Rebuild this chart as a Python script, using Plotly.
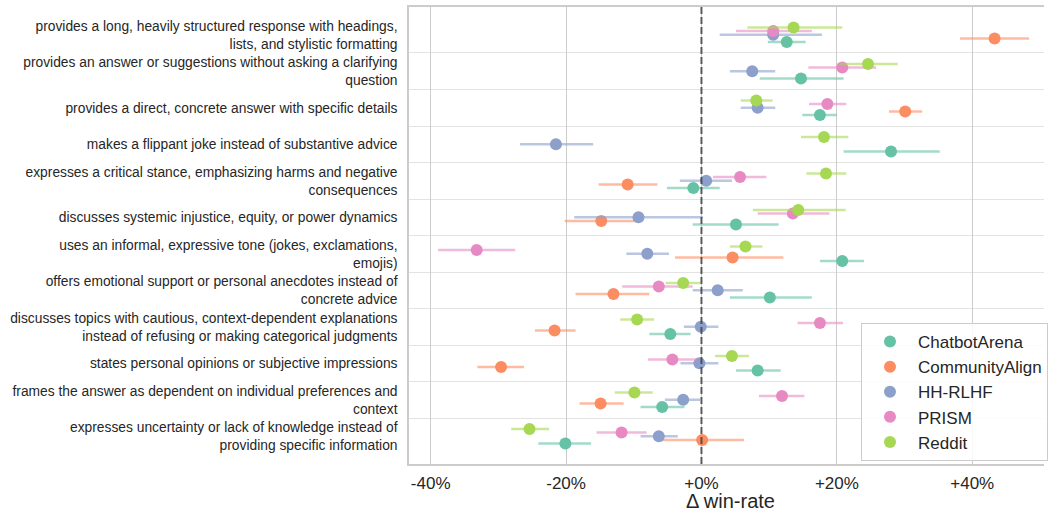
import plotly.graph_objects as go

categories = [
    "provides a long, heavily structured response with headings,<br>lists, and stylistic formatting",
    "provides an answer or suggestions without asking a clarifying<br>question",
    "provides a direct, concrete answer with specific details",
    "makes a flippant joke instead of substantive advice",
    "expresses a critical stance, emphasizing harms and negative<br>consequences",
    "discusses systemic injustice, equity, or power dynamics",
    "uses an informal, expressive tone (jokes, exclamations,<br>emojis)",
    "offers emotional support or personal anecdotes instead of<br>concrete advice",
    "discusses topics with cautious, context-dependent explanations<br>instead of refusing or making categorical judgments",
    "states personal opinions or subjective impressions",
    "frames the answer as dependent on individual preferences and<br>context",
    "expresses uncertainty or lack of knowledge instead of<br>providing specific information",
]

series_names = ["ChatbotArena", "CommunityAlign", "HH-RLHF", "PRISM", "Reddit"]

chatbotarena_val = [12.6, 14.7, 17.5, 28.0, -1.2, 5.1, 20.8, 10.1, -4.6, 8.3, -5.8, -20.1]
chatbotarena_lo = [9.8, 8.6, 14.9, 21.0, -5.1, -1.3, 17.5, 4.2, -7.7, 5.1, -9.0, -24.1]
chatbotarena_hi = [15.4, 21.0, 20.0, 35.2, 2.7, 11.4, 24.0, 16.3, -1.6, 11.7, -2.5, -16.3]

communityalign_val = [43.3, None, 30.1, None, -10.9, -14.8, 4.6, -13.0, -21.7, -29.6, -14.9, 0.1]
communityalign_lo = [38.2, None, 27.7, None, -15.2, -20.2, -3.9, -18.6, -24.6, -33.1, -18.0, -6.7]
communityalign_hi = [48.4, None, 32.6, None, -6.5, -9.2, 12.1, -7.7, -18.6, -26.2, -11.5, 6.3]

hhrlhf_val = [10.6, 7.5, 8.3, -21.5, 0.7, -9.3, -8.0, 2.4, -0.1, -0.3, -2.7, -6.3]
hhrlhf_lo = [2.7, 4.2, 5.8, -26.8, -3.2, -18.8, -11.1, -1.3, -2.6, -3.1, -5.4, -9.0]
hhrlhf_hi = [17.8, 10.9, 10.9, -16.0, 4.5, 0.2, -4.8, 6.1, 2.5, 2.5, -0.2, -3.5]

prism_val = [10.6, 20.8, 18.6, None, 5.7, 13.5, -33.2, -6.3, 17.5, -4.3, 11.9, -11.8]
prism_lo = [5.1, 15.8, 15.9, None, 1.7, 8.3, -38.9, -11.7, 14.2, -7.9, 8.5, -15.5]
prism_hi = [16.3, 25.8, 21.4, None, 9.6, 18.9, -27.5, -1.3, 20.9, -0.7, 15.2, -8.1]

reddit_val = [13.6, 24.6, 8.1, 18.1, 18.4, 14.3, 6.5, -2.7, -9.5, 4.5, -9.9, -25.4]
reddit_lo = [6.8, 20.4, 5.8, 14.7, 15.5, 7.6, 4.2, -5.3, -12.0, 2.0, -12.8, -28.1]
reddit_hi = [20.8, 29.0, 10.5, 21.7, 21.4, 21.3, 9.0, -0.1, -7.0, 7.0, -7.2, -22.5]

x_tickvals = [-40, -20, 0, 20, 40]
x_ticktext = ["-40%", "-20%", "+0%", "+20%", "+40%"]
x_title = "Δ win-rate"

series_data = {
    "ChatbotArena": (chatbotarena_val, chatbotarena_lo, chatbotarena_hi),
    "CommunityAlign": (communityalign_val, communityalign_lo, communityalign_hi),
    "HH-RLHF": (hhrlhf_val, hhrlhf_lo, hhrlhf_hi),
    "PRISM": (prism_val, prism_lo, prism_hi),
    "Reddit": (reddit_val, reddit_lo, reddit_hi),
}

colors = {
    "ChatbotArena": (102, 194, 165),
    "CommunityAlign": (252, 141, 98),
    "HH-RLHF": (141, 160, 203),
    "PRISM": (231, 138, 195),
    "Reddit": (166, 216, 84),
}
dodge = {"ChatbotArena": 0.2, "CommunityAlign": 0.1, "HH-RLHF": 0.0, "PRISM": -0.1, "Reddit": -0.2}

FONT = "Liberation Sans, Arial, Helvetica, sans-serif"

fig = go.Figure()
for name in series_names:
    vals, lo, hi = series_data[name]
    r, g, b = colors[name]
    ys, xs, plus, minus = [], [], [], []
    for i, v in enumerate(vals):
        if v is None:
            continue
        ys.append(i + dodge[name])
        xs.append(v)
        plus.append(hi[i] - v)
        minus.append(v - lo[i])
    fig.add_trace(go.Scatter(
        x=xs, y=ys, mode="markers", name=name,
        marker=dict(size=12, color=f"rgb({r},{g},{b})", line=dict(width=0)),
        error_x=dict(type="data", symmetric=False, array=plus, arrayminus=minus,
                     color=f"rgba({r},{g},{b},0.6)", thickness=2.5, width=0),
    ))

fig.add_shape(type="line", x0=0, x1=0, xref="x", yref="paper", y0=0, y1=1,
              line=dict(color="rgba(60,60,60,0.8)", width=2, dash="7px,3px"), layer="above")

fig.add_annotation(text=x_title, xref="paper", x=0.507, yref="paper", y=-0.1094,
                   xanchor="center", yanchor="bottom", showarrow=False,
                   font=dict(size=20, family=FONT, color="#262626"))

n = len(categories)
fig.update_layout(
    width=1048, height=514,
    margin=dict(l=409, r=0, t=7, b=50),
    plot_bgcolor="white", paper_bgcolor="white",
    font=dict(family=FONT, color="#262626"),
    showlegend=True,
    legend=dict(
        x=0.712, y=0.3085, xanchor="left", yanchor="top",
        bgcolor="rgba(255,255,255,0.85)", bordercolor="#cccccc", borderwidth=1,
        font=dict(size=17, family=FONT, color="#262626"),
        itemwidth=46, tracegroupgap=0,
    ),
    xaxis=dict(
        range=[-43.2, 50.6], tickvals=x_tickvals, ticktext=x_ticktext,
        showgrid=True, gridcolor="#cccccc", gridwidth=1, zeroline=False,
        showline=True, linecolor="#cccccc", linewidth=1.5, mirror=True,
        tickfont=dict(size=17), ticks="", ticklabelstandoff=3,
        automargin=False,
    ),
    yaxis=dict(
        range=[n - 1 + 0.76, -0.76], tickvals=list(range(n)), ticktext=categories,
        showgrid=False, zeroline=False,
        showline=True, linecolor="#cccccc", linewidth=1.5, mirror=False,
        tickfont=dict(size=13.8), ticks="", ticklabelstandoff=7,
        minor=dict(tickvals=[i + 0.5 for i in range(n - 1)], showgrid=True,
                   gridcolor="#e3e3e3", gridwidth=1, ticks=""),
        automargin=False,
    ),
)

fig.write_html(
    "out.html",
    config={"displayModeBar": False},
    post_script="document.body.style.margin='0';document.body.style.overflow='hidden';",
)
